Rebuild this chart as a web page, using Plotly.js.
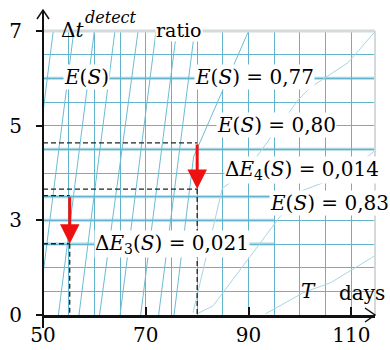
<!DOCTYPE html>
<html><head><meta charset="utf-8">
<script src="https://cdn.plot.ly/plotly-3.0.1.min.js"></script>
<style>body{margin:0;background:#fff}#chart{width:390px;height:350px}</style>
</head><body><div id="chart"></div>
<script>
// x: days; y: chart grid units (12 cells), labelled 0,3,5,7
const xTickVals = [50, 70, 90, 110];
const yTickVals = [0, 4, 8, 12];
const yTickText = ["0", "3", "5", "7"];
const thickLevels = [10, 7, 5];
const thickShortLevels = [4, 3];

// steep isolines on the left: x at bottom (grid 0) and at top (grid 12)
const steepBottom = [45.0, 49.0, 53.0, 57.0, 61.0, 65.0, 69.0, 72.5];
const steepTop    = [52.0, 56.0, 60.0, 64.0, 68.5, 72.0, 76.0, 79.5];

// flatter isolines on the right
const curveAX = [75.5, 79.3, 90.0];
const curveAY = [0, 6.68, 12];
const curveBX = [79.2, 84.9, 89.4, 99.7, 102.0, 109.4, 114.7];
const curveBY = [0.1, 5.36, 6.04, 9.10, 9.61, 10.67, 12];
const curveCX = [80.0, 83.1, 99.7, 109.4, 114.7];
const curveCY = [0.05, 0.39, 5.19, 6.0, 6.97];
const curveDX = [93.3, 100.7, 106.0, 114.7];
const curveDY = [0.05, 0.95, 1.37, 2.52];

// detection construction (dashed guides and red arrows)
const T4 = 80.0, T3 = 55.2;
const e4Top = 7.27, e4Bottom = 5.32;
const e3Top = 5.04, e3Bottom = 3.01;

const gridCol = '#62b4cc';
const isoCol = '#6cbcd3';
const lightIso = '#a6d6e4';

const traces = [];
for (let i = 0; i < steepBottom.length; i++) {
  traces.push({x: [steepBottom[i], steepTop[i]], y: [0, 12], mode: 'lines',
    line: {color: isoCol, width: 1}, hoverinfo: 'skip', showlegend: false});
}
[[curveAX, curveAY, isoCol], [curveBX, curveBY, lightIso], [curveCX, curveCY, lightIso], [curveDX, curveDY, lightIso]].forEach(c => {
  traces.push({x: c[0], y: c[1], mode: 'lines', line: {color: c[2], width: 1}, hoverinfo: 'skip', showlegend: false});
});
const dash = {color: '#222', width: 1.3, dash: '5px,3px'};
traces.push({x: [50, T4], y: [e4Top, e4Top], mode: 'lines', line: dash, showlegend: false});
traces.push({x: [50, T4], y: [e4Bottom, e4Bottom], mode: 'lines', line: dash, showlegend: false});
traces.push({x: [T4, T4], y: [e4Bottom, 0], mode: 'lines', line: dash, showlegend: false});
traces.push({x: [50, T3], y: [e3Top, e3Top], mode: 'lines', line: dash, showlegend: false});
traces.push({x: [50, T3], y: [e3Bottom, e3Bottom], mode: 'lines', line: dash, showlegend: false});
traces.push({x: [T3, T3], y: [e3Bottom, 0], mode: 'lines', line: dash, showlegend: false});

const shapes = [];
thickLevels.forEach(v => shapes.push({type: 'line', xref: 'paper', yref: 'y', x0: 0, x1: 1, y0: v, y1: v,
  line: {color: '#a8d6e3', width: 3}, layer: 'below'}));
thickShortLevels.forEach(v => shapes.push({type: 'line', xref: 'x', yref: 'y', x0: 50, x1: 95, y0: v, y1: v,
  line: {color: '#a8d6e3', width: 3}, layer: 'below'}));
// top and right frame
shapes.push({type: 'line', xref: 'paper', yref: 'paper', x0: 0, x1: 1, y0: 1, y1: 1, line: {color: '#d4d9db', width: 3}});
shapes.push({type: 'line', xref: 'paper', yref: 'paper', x0: 1, x1: 1, y0: 0, y1: 1, line: {color: '#d4d9db', width: 2}});
// y axis extension with open arrow
const W = 332, H = 284;
const px = v => (v - 43) / W, py = v => (315 - v) / H;
shapes.push({type: 'line', xref: 'paper', yref: 'paper', x0: 0, x1: 0, y0: py(328), y1: py(10), line: {color: '#111', width: 2}});
shapes.push({type: 'path', xref: 'paper', yref: 'paper',
  path: `M${px(37)},${py(19)} L${px(43)},${py(10)} L${px(49)},${py(19)}`, line: {color: '#111', width: 1.5}});
shapes.push({type: 'path', xref: 'paper', yref: 'paper',
  path: `M${px(365)},${py(308)} L${px(375)},${py(315)} L${px(365)},${py(322)}`, line: {color: '#111', width: 1.5}});

const serif = 'DejaVu Serif';
const ann = (x, y, text, size, opts) => Object.assign({xref: 'paper', yref: 'paper', x: px(x), y: py(y), text: text,
  showarrow: false, font: {family: serif, size: size, color: '#000'}, xanchor: 'center', yanchor: 'middle',
  bgcolor: 'rgba(255,255,255,1)', borderpad: 0}, opts || {});
const annotations = [
  ann(72, 30, 'Δ<i>t</i>', 20, {bgcolor: 'rgba(0,0,0,0)'}),
  ann(111, 17, '<i>detect</i>', 16, {bgcolor: 'rgba(0,0,0,0)'}),
  ann(179, 30, 'ratio', 19, {bgcolor: 'rgba(255,255,255,1)'}),
  ann(86, 77, '<i>E</i>(<i>S</i>)', 20),
  ann(254, 77, '<i>E</i>(<i>S</i>) = 0,77', 20),
  ann(276, 125, '<i>E</i>(<i>S</i>) = 0,80', 20),
  ann(302, 170, 'Δ<i>E</i><sub>4</sub>(<i>S</i>) = 0,014', 20),
  ann(329, 203, '<i>E</i>(<i>S</i>) = 0,83', 20),
  ann(172, 244, 'Δ<i>E</i><sub>3</sub>(<i>S</i>) = 0,021', 20),
  ann(308, 291, '<i>T</i>', 20, {bgcolor: 'rgba(0,0,0,0)'}),
  ann(362, 293, 'days', 20, {bgcolor: 'rgba(0,0,0,0)'}),
  {x: T4, y: e4Bottom, ax: T4, ay: e4Top, xref: 'x', yref: 'y', axref: 'x', ayref: 'y', text: '',
   showarrow: true, arrowhead: 2, arrowsize: 1.3, arrowwidth: 3, arrowcolor: '#ee1111', standoff: 0},
  {x: T3, y: e3Bottom, ax: T3, ay: e3Top, xref: 'x', yref: 'y', axref: 'x', ayref: 'y', text: '',
   showarrow: true, arrowhead: 2, arrowsize: 1.3, arrowwidth: 3, arrowcolor: '#ee1111', standoff: 0}
];

const layout = {
  width: 390, height: 350,
  margin: {l: 43, r: 15, t: 31, b: 35},
  paper_bgcolor: '#fff', plot_bgcolor: '#fff',
  showlegend: false,
  font: {family: serif},
  xaxis: {range: [50, 114.6], tickvals: xTickVals, ticks: 'inside', ticklen: 8, tickwidth: 2, tickcolor: '#111',
    showline: true, linecolor: '#111', linewidth: 2.5, zeroline: false,
    showgrid: true, gridcolor: gridCol, gridwidth: 1,
    minor: {dtick: 5, tick0: 50, showgrid: true, gridcolor: gridCol, gridwidth: 1, ticks: ''},
    tickfont: {family: serif, size: 20, color: '#000'}, ticklabelstandoff: 0},
  yaxis: {range: [0, 12], tickvals: yTickVals, ticktext: yTickText, ticks: 'outside', ticklen: 6, tickwidth: 2, tickcolor: '#111',
    showline: false, zeroline: false,
    showgrid: true, gridcolor: gridCol, gridwidth: 1,
    minor: {dtick: 1, tick0: 0, showgrid: true, gridcolor: gridCol, gridwidth: 1, ticks: ''},
    tickfont: {family: serif, size: 20, color: '#000'}, ticklabelstandoff: 10},
  shapes: shapes,
  annotations: annotations
};
Plotly.newPlot('chart', traces, layout, {staticPlot: true, displayModeBar: false});
</script>
</body></html>
